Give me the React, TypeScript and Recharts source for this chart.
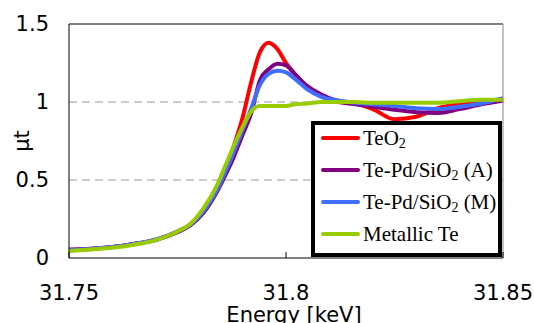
import React from "react";
import {
    LineChart,
    Line,
    XAxis,
    YAxis,
    CartesianGrid,
    ReferenceLine,
} from "recharts";

// energy grid [keV]
const energy = [
    31.75, 31.755, 31.76, 31.765, 31.77, 31.775, 31.778, 31.781, 31.784, 31.786,
    31.788, 31.79, 31.792, 31.794, 31.796, 31.798, 31.8, 31.802, 31.805, 31.808,
    31.812, 31.816, 31.82, 31.825, 31.83, 31.835, 31.84, 31.845, 31.85,
];

const teo2 = [
    0.05, 0.058, 0.07, 0.09, 0.118, 0.17, 0.215, 0.3, 0.44, 0.57,
    0.72, 0.9, 1.13, 1.32, 1.38, 1.34, 1.25, 1.18, 1.09, 1.04,
    1.0, 0.99, 0.955, 0.89, 0.905, 0.96, 0.985, 1.0, 1.02,
];
const tePdA = [
    0.055, 0.06, 0.07, 0.09, 0.115, 0.165, 0.21, 0.29, 0.42, 0.53,
    0.65, 0.79, 0.93, 1.14, 1.21, 1.245, 1.235, 1.18, 1.1, 1.05,
    1.005, 0.985, 0.97, 0.95, 0.935, 0.93, 0.955, 0.985, 1.01,
];
const tePdM = [
    0.05, 0.058, 0.07, 0.09, 0.118, 0.17, 0.215, 0.3, 0.43, 0.55,
    0.68, 0.82, 0.96, 1.11, 1.18, 1.2, 1.19, 1.15, 1.08, 1.035,
    1.01, 0.995, 0.985, 0.975, 0.96, 0.955, 0.97, 0.99, 1.025,
];
const metallic = [
    0.045, 0.055, 0.065, 0.085, 0.115, 0.17, 0.22, 0.32, 0.46, 0.59,
    0.72, 0.84, 0.94, 0.975, 0.975, 0.975, 0.975, 0.985, 0.99, 1.0,
    1.0, 1.0, 0.995, 0.995, 0.995, 0.995, 1.005, 1.015, 1.015,
];

const xTicks = [31.75, 31.8, 31.85];
const yTicks = [0, 0.5, 1, 1.5];

const series = [
    { key: "teo2", name: "TeO2", label: ["TeO", "2", ""], color: "#ff0000" },
    { key: "a", name: "Te-Pd/SiO2 (A)", label: ["Te-Pd/SiO", "2", " (A)"], color: "#800080" },
    { key: "m", name: "Te-Pd/SiO2 (M)", label: ["Te-Pd/SiO", "2", " (M)"], color: "#3f6eff" },
    { key: "met", name: "Metallic Te", label: ["Metallic Te", "", ""], color: "#99cc00" },
];

const data = energy.map((e, i) => ({
    e,
    teo2: teo2[i],
    a: tePdA[i],
    m: tePdM[i],
    met: metallic[i],
}));

const tickFont = { fill: "#000", fontSize: 21, fontFamily: "DejaVu Sans" };

export default function App() {
    return (
        <div style={{ position: "absolute", left: 0, top: 0, width: 534, height: 323, background: "#fff", overflow: "hidden" }}>
            <LineChart width={534} height={323} data={data} margin={{ top: 24, right: 31, left: 0, bottom: 35 }}>
                <CartesianGrid vertical={false} horizontalValues={[0.5, 1]} stroke="#999" strokeDasharray="8 5" />
                <XAxis
                    dataKey="e"
                    type="number"
                    domain={[31.75, 31.85]}
                    ticks={xTicks}
                    height={30}
                    stroke="#000"
                    tickSize={-6}
                    tickMargin={33}
                    tick={tickFont}
                    label={{ value: "Energy [keV]", position: "bottom", offset: 19, dx: 8, style: { fontSize: 21, fontFamily: "DejaVu Sans", fill: "#000" } }}
                />
                <YAxis
                    type="number"
                    domain={[0, 1.5]}
                    ticks={yTicks}
                    width={69}
                    stroke="#000"
                    tickLine={false}
                    tickMargin={14}
                    tick={tickFont}
                    label={{ value: "μt", angle: -90, position: "insideLeft", offset: 22, style: { textAnchor: "middle", fontSize: 21, fontFamily: "DejaVu Sans", fill: "#000" } }}
                />
                <ReferenceLine y={1.5} stroke="#000" />
                <ReferenceLine x={31.85} stroke="#888" />
                {series.map((s) => (
                    <Line
                        key={s.key}
                        dataKey={s.key}
                        name={s.name}
                        type="monotone"
                        stroke={s.color}
                        strokeWidth={4}
                        dot={false}
                        isAnimationActive={false}
                    />
                ))}
            </LineChart>

            {/* legend box */}
            <div
                style={{
                    position: "absolute",
                    left: 311,
                    top: 121,
                    width: 191,
                    height: 136,
                    boxSizing: "border-box",
                    border: "4px solid #000",
                    background: "#fff",
                    fontFamily: "Liberation Serif",
                    fontSize: 21,
                    color: "#000",
                }}
            >
                {series.map((s, i) => (
                    <div key={s.key} style={{ position: "absolute", left: 0, top: 13 + i * 32 - 12, height: 24, width: 183 }}>
                        <div style={{ position: "absolute", left: 6, top: 10, width: 39, height: 4, background: s.color, borderRadius: 2 }} />
                        <div style={{ position: "absolute", left: 48, top: 0, lineHeight: "24px", whiteSpace: "nowrap" }}>
                            {s.label[0]}
                            {s.label[1] && <span style={{ fontSize: 14, verticalAlign: "-3px" }}>{s.label[1]}</span>}
                            {s.label[2]}
                        </div>
                    </div>
                ))}
            </div>
        </div>
    );
}
